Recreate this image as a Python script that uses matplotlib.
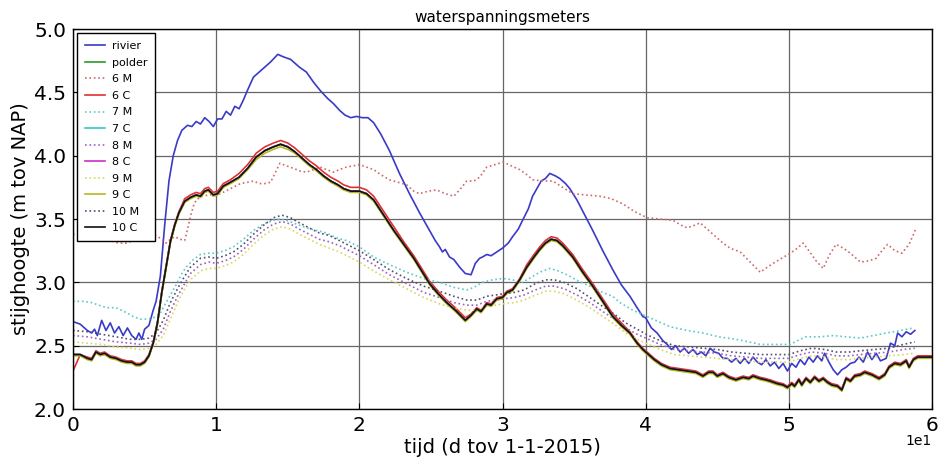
import matplotlib
matplotlib.use("Agg")
import matplotlib.pyplot as plt

# --- time axis values (days since 1-1-2015) and heads (m NAP) ---
dag_r = [0, 0.5, 1.0, 1.3, 1.5, 1.7, 2.0, 2.3, 2.6, 2.9,
         3.2, 3.5, 3.8, 4.1, 4.4, 4.6, 4.8, 5.0, 5.3, 5.6,
         5.8, 6.1, 6.4, 6.7, 7.0, 7.3, 7.6, 8.0, 8.3, 8.6,
         8.9, 9.2, 9.5, 9.8, 10.1, 10.4, 10.7, 11.0, 11.3, 11.6,
         11.9, 12.2, 12.6, 13.0, 13.4, 13.8, 14.3, 14.7, 15.2, 15.8,
         16.3, 16.8, 17.3, 17.8, 18.2, 18.6, 19.0, 19.4, 19.8, 20.2,
         20.6, 21.0, 21.5, 22.1, 22.8, 23.5, 24.2, 24.9, 25.3, 25.6,
         25.8, 26.0, 26.3, 26.6, 27.0, 27.4, 27.8, 28.1, 28.4, 28.6,
         28.9, 29.2, 29.6, 30.0, 30.4, 30.7, 31.1, 31.4, 31.8, 32.1,
         32.4, 32.7, 33.0, 33.3, 33.7, 34.0, 34.4, 34.7, 35.2, 35.8,
         36.3, 37.0, 37.7, 38.3, 38.9, 39.4, 39.8, 40.0, 40.4, 40.8,
         41.2, 41.5, 41.8, 42.1, 42.4, 42.7, 43.0, 43.3, 43.6, 43.9,
         44.2, 44.5, 44.8, 45.1, 45.4, 45.7, 46.0, 46.3, 46.6, 46.9,
         47.2, 47.5, 47.8, 48.1, 48.4, 48.7, 49.0, 49.3, 49.6, 49.9,
         50.2, 50.5, 50.8, 51.1, 51.4, 51.7, 52.0, 52.3, 52.5, 52.8,
         53.1, 53.4, 53.7, 54.0, 54.3, 54.6, 54.9, 55.2, 55.5, 55.8,
         56.1, 56.4, 56.8, 57.1, 57.4, 57.6, 57.9, 58.2, 58.5, 58.8]
rivier = [2.69, 2.67, 2.62, 2.60, 2.63, 2.58, 2.70, 2.62, 2.68, 2.60,
          2.65, 2.58, 2.64, 2.58, 2.55, 2.60, 2.55, 2.63, 2.66, 2.78,
          2.85, 3.05, 3.45, 3.80, 4.00, 4.12, 4.20, 4.24, 4.23, 4.27,
          4.25, 4.30, 4.27, 4.23, 4.29, 4.29, 4.35, 4.32, 4.39, 4.37,
          4.44, 4.52, 4.62, 4.66, 4.70, 4.74, 4.80, 4.78, 4.76, 4.70,
          4.66, 4.58, 4.51, 4.45, 4.41, 4.36, 4.32, 4.30, 4.31, 4.30,
          4.30, 4.26, 4.17, 4.04, 3.86, 3.70, 3.55, 3.41, 3.33, 3.28,
          3.24, 3.26, 3.20, 3.18, 3.12, 3.07, 3.06, 3.15, 3.19, 3.20,
          3.22, 3.21, 3.24, 3.27, 3.31, 3.36, 3.42, 3.49, 3.58, 3.68,
          3.74, 3.80, 3.82, 3.86, 3.84, 3.82, 3.78, 3.74, 3.65, 3.52,
          3.41, 3.25, 3.10, 2.98, 2.89, 2.80, 2.73, 2.72, 2.64, 2.60,
          2.54, 2.51, 2.47, 2.50, 2.45, 2.48, 2.44, 2.47, 2.43, 2.45,
          2.42, 2.48, 2.45, 2.44, 2.40, 2.40, 2.37, 2.40, 2.36, 2.40,
          2.36, 2.41, 2.37, 2.35, 2.39, 2.34, 2.37, 2.32, 2.36, 2.30,
          2.36, 2.33, 2.39, 2.35, 2.41, 2.37, 2.42, 2.38, 2.44, 2.37,
          2.31, 2.27, 2.31, 2.33, 2.36, 2.37, 2.41, 2.37, 2.45, 2.39,
          2.44, 2.38, 2.40, 2.52, 2.50, 2.60, 2.57, 2.61, 2.59, 2.62]

# closed meters (C) share one time base
dag_c = [0, 0.5, 1.0, 1.3, 1.6, 1.9, 2.2, 2.6, 3.0, 3.4,
         3.8, 4.1, 4.4, 4.7, 5.0, 5.3, 5.6, 5.9, 6.2, 6.5,
         6.8, 7.1, 7.4, 7.8, 8.2, 8.6, 8.9, 9.2, 9.45, 9.8,
         10.1, 10.5, 11.0, 11.6, 12.2, 12.8, 13.4, 14.0, 14.5, 15.0,
         15.5, 16.0, 16.5, 17.0, 17.5, 18.0, 18.5, 18.9, 19.4, 20.0,
         20.5, 21.0, 21.7, 22.4, 23.1, 23.8, 24.4, 24.9, 25.5, 26.1,
         26.7, 27.4, 27.8, 28.2, 28.5, 28.9, 29.2, 29.6, 30.0, 30.3,
         30.7, 31.2, 31.7, 32.2, 32.6, 33.0, 33.4, 33.8, 34.2, 34.9,
         35.6, 36.3, 37.0, 37.7, 38.3, 38.9, 39.4, 39.8, 40.2, 40.6,
         41.1, 41.7, 42.3, 42.9, 43.5, 44.0, 44.4, 44.7, 45.0, 45.4,
         45.8, 46.3, 46.8, 47.2, 47.5, 48.0, 48.4, 48.7, 49.2, 49.6,
         49.9, 50.2, 50.4, 50.7, 50.9, 51.2, 51.5, 51.8, 52.1, 52.4,
         52.7, 53.0, 53.4, 53.7, 54.0, 54.3, 54.6, 55.0, 55.3, 55.8,
         56.3, 56.7, 57.0, 57.4, 57.8, 58.2, 58.4, 58.7, 59.0, 60.0]
c10 = [2.43, 2.43, 2.40, 2.39, 2.45, 2.43, 2.44, 2.41, 2.40, 2.38,
       2.37, 2.37, 2.35, 2.35, 2.37, 2.42, 2.52, 2.68, 2.92, 3.12,
       3.32, 3.45, 3.55, 3.64, 3.67, 3.69, 3.68, 3.72, 3.73, 3.69,
       3.70, 3.76, 3.79, 3.83, 3.90, 3.99, 4.04, 4.07, 4.09, 4.07,
       4.03, 3.98, 3.93, 3.89, 3.84, 3.80, 3.77, 3.74, 3.72, 3.72,
       3.70, 3.65, 3.53, 3.41, 3.30, 3.19, 3.08, 2.99, 2.91, 2.84,
       2.78, 2.70, 2.74, 2.79, 2.77, 2.83, 2.82, 2.87, 2.88, 2.92,
       2.94, 3.02, 3.12, 3.20, 3.26, 3.31, 3.34, 3.33, 3.29, 3.20,
       3.08, 2.97, 2.85, 2.73, 2.66, 2.60, 2.52, 2.47, 2.43, 2.39,
       2.35, 2.32, 2.31, 2.30, 2.29, 2.26, 2.29, 2.29, 2.26, 2.28,
       2.25, 2.23, 2.25, 2.24, 2.26, 2.24, 2.23, 2.22, 2.20, 2.19,
       2.17, 2.20, 2.18, 2.23, 2.19, 2.24, 2.21, 2.25, 2.22, 2.24,
       2.21, 2.19, 2.18, 2.15, 2.24, 2.22, 2.26, 2.27, 2.29, 2.27,
       2.24, 2.27, 2.33, 2.36, 2.35, 2.38, 2.33, 2.39, 2.41, 2.41]
c6 = [2.30, 2.43, 2.41, 2.40, 2.46, 2.44, 2.45, 2.42, 2.41, 2.39,
      2.38, 2.38, 2.36, 2.36, 2.38, 2.43, 2.53, 2.69, 2.93, 3.13,
      3.33, 3.46, 3.56, 3.66, 3.69, 3.71, 3.70, 3.74, 3.75, 3.71,
      3.72, 3.78, 3.81, 3.86, 3.93, 4.02, 4.07, 4.10, 4.12, 4.10,
      4.06, 4.01, 3.96, 3.92, 3.87, 3.83, 3.80, 3.77, 3.75, 3.75,
      3.73, 3.68, 3.56, 3.44, 3.32, 3.21, 3.10, 3.01, 2.93, 2.86,
      2.80, 2.72, 2.75, 2.80, 2.78, 2.84, 2.83, 2.88, 2.89, 2.93,
      2.95, 3.03, 3.14, 3.22, 3.28, 3.33, 3.36, 3.35, 3.31, 3.22,
      3.10, 2.99, 2.87, 2.75, 2.68, 2.61, 2.53, 2.48, 2.44, 2.40,
      2.36, 2.33, 2.32, 2.31, 2.30, 2.27, 2.30, 2.30, 2.27, 2.29,
      2.26, 2.24, 2.26, 2.25, 2.27, 2.25, 2.24, 2.23, 2.21, 2.20,
      2.18, 2.21, 2.19, 2.24, 2.20, 2.25, 2.22, 2.26, 2.23, 2.25,
      2.22, 2.20, 2.19, 2.16, 2.25, 2.23, 2.27, 2.28, 2.30, 2.28,
      2.25, 2.28, 2.34, 2.37, 2.36, 2.39, 2.34, 2.40, 2.42, 2.42]
c9 = [2.42, 2.42, 2.39, 2.38, 2.44, 2.42, 2.43, 2.40, 2.39, 2.37,
      2.36, 2.36, 2.34, 2.34, 2.36, 2.41, 2.51, 2.67, 2.91, 3.11,
      3.31, 3.44, 3.54, 3.63, 3.66, 3.68, 3.67, 3.71, 3.72, 3.68,
      3.69, 3.75, 3.78, 3.82, 3.89, 3.97, 4.02, 4.05, 4.07, 4.05,
      4.02, 3.97, 3.92, 3.88, 3.83, 3.79, 3.76, 3.73, 3.71, 3.71,
      3.69, 3.64, 3.52, 3.40, 3.29, 3.18, 3.07, 2.98, 2.90, 2.83,
      2.77, 2.69, 2.73, 2.78, 2.76, 2.82, 2.81, 2.86, 2.87, 2.91,
      2.93, 3.01, 3.11, 3.19, 3.25, 3.30, 3.33, 3.32, 3.28, 3.19,
      3.07, 2.96, 2.84, 2.72, 2.65, 2.59, 2.51, 2.46, 2.42, 2.38,
      2.34, 2.31, 2.30, 2.29, 2.28, 2.25, 2.28, 2.28, 2.25, 2.27,
      2.24, 2.22, 2.24, 2.23, 2.25, 2.23, 2.22, 2.21, 2.19, 2.18,
      2.16, 2.19, 2.17, 2.22, 2.18, 2.23, 2.20, 2.24, 2.21, 2.23,
      2.20, 2.18, 2.17, 2.14, 2.23, 2.21, 2.25, 2.26, 2.28, 2.26,
      2.23, 2.26, 2.32, 2.35, 2.34, 2.37, 2.32, 2.38, 2.40, 2.40]
# polder and meters 7 C / 8 C follow 10 C almost exactly
polder = c10
c7 = c10
c8 = c10

# open meters (M)
dag_6m = [0, 0.6, 1.2, 1.9, 2.6, 3.2, 3.75, 4.2, 4.7, 5.2,
          5.8, 6.2, 6.5, 6.8, 7.1, 7.5, 7.8, 8.0, 8.2, 8.4,
          8.6, 9.0, 9.5, 10.3, 11.0, 11.7, 12.2, 12.6, 13.0, 13.4,
          13.8, 14.1, 14.45, 14.9, 15.4, 15.8, 16.3, 16.8, 17.25, 17.7,
          18.2, 18.6, 19.1, 19.6, 20.0, 20.5, 21.0, 21.5, 22.1, 22.7,
          23.3, 23.8, 24.2, 24.8, 25.4, 26.0, 26.6, 27.0, 27.5, 28.0,
          28.4, 28.9, 29.5, 30.05, 30.6, 31.2, 31.7, 32.1, 32.8, 33.5,
          34.2, 34.9, 35.8, 36.8, 37.6, 38.4, 39.2, 40.1, 41.0, 41.9,
          42.5, 42.9, 43.4, 43.8, 44.3, 44.9, 45.4, 45.9, 46.6, 47.3,
          48.0, 48.5, 48.9, 49.5, 50.1, 50.6, 51.0, 51.4, 51.9, 52.4,
          52.8, 53.3, 53.8, 54.3, 54.7, 55.0, 55.6, 56.1, 56.5, 56.9,
          57.4, 57.9, 58.4, 58.9]
m6 = [3.38, 3.37, 3.36, 3.35, 3.33, 3.31, 3.31, 3.33, 3.35, 3.37,
      3.37, 3.34, 3.31, 3.34, 3.36, 3.34, 3.33, 3.42, 3.52, 3.60,
      3.65, 3.68, 3.69, 3.70, 3.74, 3.78, 3.79, 3.80, 3.78, 3.78,
      3.79, 3.86, 3.94, 3.92, 3.90, 3.88, 3.87, 3.89, 3.91, 3.89,
      3.87, 3.89, 3.91, 3.92, 3.93, 3.91, 3.89, 3.85, 3.81, 3.79,
      3.77, 3.72, 3.70, 3.72, 3.73, 3.70, 3.68, 3.73, 3.80, 3.80,
      3.83, 3.91, 3.93, 3.95, 3.92, 3.89, 3.85, 3.81, 3.80, 3.80,
      3.75, 3.70, 3.69, 3.68, 3.66, 3.62, 3.56, 3.51, 3.50, 3.49,
      3.45, 3.43, 3.45, 3.47, 3.42, 3.36, 3.31, 3.27, 3.24, 3.16,
      3.08, 3.12, 3.15, 3.19, 3.23, 3.27, 3.31, 3.25, 3.17, 3.11,
      3.21, 3.30, 3.27, 3.23, 3.19, 3.16, 3.17, 3.19, 3.25, 3.30,
      3.25, 3.23, 3.30, 3.43]

dag_7m = [0, 0.7, 1.3, 1.8, 2.35, 3.0, 3.75, 4.2, 4.7, 5.2,
          5.6, 6.0, 6.3, 6.7, 7.2, 7.6, 7.9, 8.4, 8.9, 9.4,
          10.0, 10.6, 11.2, 11.9, 12.6, 13.3, 14.0, 14.5, 14.9, 15.6,
          16.3, 17.0, 17.7, 18.4, 19.1, 20.0, 21.0, 22.1, 23.3, 24.5,
          25.6, 26.6, 27.5, 28.0, 28.6, 29.3, 30.05, 30.7, 31.4, 32.0,
          32.6, 33.3, 33.9, 34.5, 35.3, 36.1, 37.0, 37.7, 38.2, 39.1,
          40.1, 40.9, 41.7, 42.9, 44.0, 45.1, 46.3, 47.2, 48.0, 49.0,
          50.1, 50.6, 51.2, 52.2, 53.1, 54.0, 55.0, 55.9, 56.8, 57.8,
          58.7]
m7 = [2.85, 2.85, 2.84, 2.82, 2.80, 2.80, 2.76, 2.73, 2.71, 2.71,
      2.72, 2.74, 2.80, 2.88, 2.98, 3.07, 3.12, 3.18, 3.22, 3.23,
      3.23, 3.25, 3.28, 3.34, 3.41, 3.46, 3.49, 3.50, 3.49, 3.46,
      3.43, 3.41, 3.39, 3.35, 3.33, 3.28, 3.20, 3.14, 3.08, 3.03,
      3.00, 2.96, 2.94, 2.96, 3.00, 3.02, 3.03, 3.02, 3.00, 3.04,
      3.08, 3.11, 3.09, 3.06, 3.01, 2.97, 2.92, 2.89, 2.84, 2.78,
      2.73, 2.69, 2.65, 2.62, 2.60, 2.57, 2.55, 2.53, 2.51, 2.51,
      2.51, 2.54, 2.57, 2.57, 2.58, 2.57, 2.56, 2.58, 2.60, 2.62,
      2.64]

dag_m = [0, 1.0, 2.0, 3.0, 4.0, 4.7, 5.3, 5.8, 6.3, 6.8,
         7.3, 7.7, 8.2, 8.9, 9.5, 10.0, 10.6, 11.2, 11.9, 12.6,
         13.3, 14.0, 14.6, 15.2, 15.8, 16.5, 17.2, 17.9, 18.6, 19.3,
         20.0, 21.0, 22.1, 23.3, 24.5, 25.6, 26.6, 27.5, 28.2, 28.9,
         29.5, 30.05, 30.8, 31.5, 32.3, 33.0, 33.6, 34.3, 35.2, 36.1,
         37.0, 37.8, 38.6, 39.4, 40.2, 41.0, 42.0, 43.0, 44.0, 45.0,
         46.0, 47.0, 48.0, 49.0, 50.0, 50.8, 51.6, 52.5, 53.3, 54.2,
         55.0, 56.0, 57.0, 58.0, 58.8]
m8 = [2.58, 2.57, 2.55, 2.53, 2.52, 2.51, 2.52, 2.55, 2.63, 2.77,
      2.89, 2.97, 3.07, 3.14, 3.16, 3.15, 3.17, 3.20, 3.26, 3.34,
      3.41, 3.46, 3.48, 3.46, 3.42, 3.38, 3.34, 3.32, 3.29, 3.25,
      3.21, 3.14, 3.06, 2.99, 2.92, 2.88, 2.84, 2.82, 2.82, 2.85,
      2.86, 2.87, 2.88, 2.90, 2.94, 2.97, 2.97, 2.95, 2.90, 2.84,
      2.77, 2.71, 2.64, 2.59, 2.55, 2.51, 2.47, 2.46, 2.45, 2.44,
      2.42, 2.41, 2.40, 2.40, 2.40, 2.43, 2.45, 2.44, 2.42, 2.42,
      2.43, 2.44, 2.45, 2.47, 2.48]
m9 = [2.53, 2.52, 2.51, 2.49, 2.48, 2.47, 2.48, 2.51, 2.58, 2.71,
      2.84, 2.93, 3.02, 3.09, 3.11, 3.11, 3.13, 3.16, 3.22, 3.30,
      3.37, 3.42, 3.44, 3.42, 3.38, 3.34, 3.30, 3.27, 3.24, 3.20,
      3.16, 3.09, 3.02, 2.95, 2.88, 2.83, 2.80, 2.78, 2.78, 2.81,
      2.82, 2.83, 2.84, 2.86, 2.90, 2.93, 2.93, 2.91, 2.86, 2.80,
      2.73, 2.67, 2.60, 2.55, 2.51, 2.47, 2.43, 2.42, 2.41, 2.40,
      2.39, 2.38, 2.37, 2.37, 2.37, 2.40, 2.42, 2.41, 2.39, 2.39,
      2.40, 2.41, 2.42, 2.43, 2.44]
m10 = [2.62, 2.61, 2.59, 2.57, 2.55, 2.55, 2.56, 2.60, 2.70, 2.84,
       2.95, 3.03, 3.12, 3.19, 3.20, 3.19, 3.21, 3.24, 3.30, 3.38,
       3.45, 3.51, 3.53, 3.51, 3.47, 3.43, 3.39, 3.37, 3.33, 3.29,
       3.25, 3.18, 3.10, 3.03, 2.97, 2.93, 2.89, 2.86, 2.86, 2.89,
       2.90, 2.91, 2.92, 2.94, 2.99, 3.02, 3.02, 3.00, 2.95, 2.88,
       2.81, 2.75, 2.68, 2.63, 2.58, 2.54, 2.50, 2.49, 2.48, 2.47,
       2.45, 2.44, 2.43, 2.43, 2.43, 2.46, 2.48, 2.47, 2.45, 2.45,
       2.46, 2.47, 2.48, 2.51, 2.53]

x_ticks = [0, 10, 20, 30, 40, 50, 60]
x_tick_labels = ["0", "1", "2", "3", "4", "5", "6"]
y_ticks = [2.0, 2.5, 3.0, 3.5, 4.0, 4.5, 5.0]
y_tick_labels = ["2.0", "2.5", "3.0", "3.5", "4.0", "4.5", "5.0"]

plt.rcParams["font.family"] = ["DejaVu Sans"]

fig = plt.figure(figsize=(9.4, 4.57), dpi=100)
ax = fig.add_axes([0.0777, 0.105, 0.9138, 0.8315])

solid_lw = 1.2
dot_lw = 1.2
ax.plot(dag_r, rivier, color="#3a3ac8", lw=solid_lw, label="rivier")
ax.plot(dag_c, polder, color="#2a9a2a", lw=solid_lw, label="polder")
ax.plot(dag_6m, m6, color="#d06a6a", lw=dot_lw, ls=":", label="6 M")
ax.plot(dag_c, c6, color="#e03030", lw=solid_lw, label="6 C")
ax.plot(dag_7m, m7, color="#5cc8c8", lw=dot_lw, ls=":", label="7 M")
ax.plot(dag_c, c7, color="#30c8c8", lw=solid_lw, label="7 C")
ax.plot(dag_m, m8, color="#a060c0", lw=dot_lw, ls=":", label="8 M")
ax.plot(dag_c, c8, color="#c830c8", lw=solid_lw, label="8 C")
ax.plot(dag_m, m9, color="#d8d860", lw=dot_lw, ls=":", label="9 M")
ax.plot(dag_c, c9, color="#b8b820", lw=solid_lw, label="9 C")
ax.plot(dag_m, m10, color="#505070", lw=dot_lw, ls=":", label="10 M")
ax.plot(dag_c, c10, color="#111111", lw=solid_lw, label="10 C")

ax.set_xlim(0, 60)
ax.set_ylim(2.0, 5.0)
ax.set_xticks(x_ticks)
ax.set_xticklabels(x_tick_labels)
ax.set_yticks(y_ticks)
ax.set_yticklabels(y_tick_labels)
ax.tick_params(direction="in", length=4, labelsize=14.5, pad=5)
ax.grid(True, color="0.4", lw=0.9, ls="-")
for sp in ax.spines.values():
    sp.set_linewidth(1.0)
    sp.set_color("black")

ax.set_title("waterspanningsmeters", fontsize=11, pad=5)
ax.set_xlabel("tijd (d tov 1-1-2015)", fontsize=14, labelpad=2)
ax.set_ylabel("stijghoogte (m tov NAP)", fontsize=14, labelpad=3)
ax.text(1.0, -0.065, "1e1", transform=ax.transAxes, ha="right", va="top",
        fontsize=10)

leg = ax.legend(loc="upper left", fontsize=8, frameon=True, fancybox=False,
                framealpha=1.0, edgecolor="black", borderaxespad=0.4,
                borderpad=0.7, handlelength=1.8, handletextpad=0.6,
                labelspacing=0.59)
leg.get_frame().set_linewidth(1.0)

fig.savefig("out.png", dpi=100)
